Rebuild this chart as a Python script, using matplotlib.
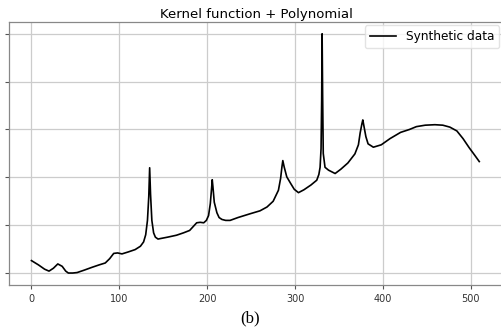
import numpy as np
import matplotlib.pyplot as plt

# values (arbitrary y units, ticks at 0..5)
x = [0, 8, 15, 20, 25, 30, 35, 39, 42, 47, 52, 60, 69, 77, 84, 89, 93.6, 98, 103,
     110, 118, 124, 127.6, 130, 132, 133.5, 134.5, 135.5, 137, 139, 141, 144, 146.6,
     155, 165, 173, 180, 184.5, 188, 192, 196, 199, 201.5, 203.5, 205, 205.7, 206.5,
     208, 211, 213.5, 216.7, 221, 226, 235, 249, 260, 268, 275, 281, 283.5, 285, 286,
     287.5, 290.5, 295, 299, 303.8, 310, 318, 324.6, 327, 328.4, 329.5, 330.2, 330.7,
     331.3, 332, 334, 338, 345.5, 352, 360, 368, 372, 374, 376, 377, 378.5, 380.5,
     383, 389, 398, 408, 420, 430, 438, 448, 459, 468, 476, 484, 491, 498, 504, 509.5]
y = [0.26, 0.17, 0.08, 0.04, 0.10, 0.19, 0.14, 0.04, 0.0, 0.0, 0.01, 0.06, 0.12, 0.17,
     0.21, 0.30, 0.41, 0.42, 0.40, 0.44, 0.49, 0.56, 0.65, 0.80, 1.10, 1.60, 2.20,
     1.65, 1.10, 0.84, 0.75, 0.71, 0.72, 0.75, 0.79, 0.84, 0.89, 0.98, 1.05, 1.06,
     1.05, 1.10, 1.20, 1.45, 1.78, 1.95, 1.80, 1.48, 1.26, 1.16, 1.12, 1.10, 1.10,
     1.16, 1.24, 1.30, 1.38, 1.50, 1.73, 1.98, 2.22, 2.35, 2.22, 2.01, 1.87, 1.75,
     1.68, 1.74, 1.84, 1.94, 2.06, 2.21, 2.60, 3.60, 5.00, 3.70, 2.50, 2.21, 2.15,
     2.08, 2.17, 2.30, 2.49, 2.68, 2.93, 3.12, 3.20, 3.05, 2.85, 2.70, 2.63, 2.68,
     2.81, 2.94, 3.00, 3.06, 3.09, 3.10, 3.09, 3.05, 2.97, 2.81, 2.62, 2.47, 2.33]

title = "Kernel function + Polynomial"
label = "Synthetic data"

fig = plt.figure(figsize=(5.01, 3.31), dpi=100)
ax = fig.add_axes([0.018, 0.139, 0.986, 0.795])

ax.plot(x, y, color='black', linewidth=1.2, label=label)
ax.set_xlim(-25.5, 536.5)
ax.set_ylim(-0.25, 5.25)
ax.set_xticks([0, 100, 200, 300, 400, 500])
ax.set_yticks([0, 1, 2, 3, 4, 5])
ax.set_yticklabels([])
ax.grid(True, color='#cccccc', linewidth=0.9)
ax.tick_params(axis='both', colors='#555555', labelsize=7, length=3, width=0.8)
ax.tick_params(axis='x', labelcolor='#333333')
for s in ax.spines.values():
    s.set_color('#888888')
    s.set_linewidth(0.9)

ax.set_title(title, fontsize=9.5, pad=3)
ax.legend(loc='upper right', fontsize=8.7, framealpha=0.8, edgecolor='#dddddd',
          fancybox=True, handlelength=2.2, borderaxespad=0.3)

fig.text(0.5, 0.038, "(b)", ha='center', va='center', fontsize=12,
         family='Liberation Serif')

fig.savefig("out.png", dpi=100)
plt.close(fig)
